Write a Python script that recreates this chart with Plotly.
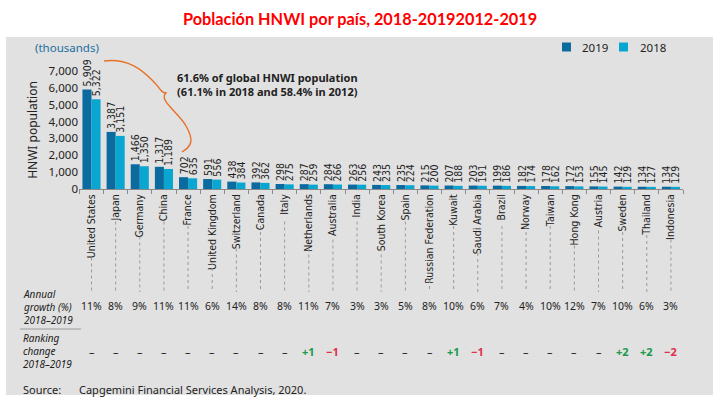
import plotly.graph_objects as go

countries = ["United States", "Japan", "Germany", "China", "France", "United Kingdom",
             "Switzerland", "Canada", "Italy", "Netherlands", "Australia", "India",
             "South Korea", "Spain", "Russian Federation", "Kuwait", "Saudi Arabia",
             "Brazil", "Norway", "Taiwan", "Hong Kong", "Austria", "Sweden", "Thailand",
             "Indonesia"]
pop_2019 = [5909, 3387, 1466, 1317, 702, 591, 438, 392, 298, 287, 284, 263, 243, 235,
            215, 207, 203, 199, 182, 178, 172, 155, 142, 134, 134]
pop_2018 = [5322, 3151, 1350, 1189, 635, 556, 384, 362, 275, 259, 266, 256, 235, 224,
            200, 188, 191, 186, 174, 162, 153, 145, 129, 127, 129]
growth = ["11%", "8%", "9%", "11%", "11%", "6%", "14%", "8%", "8%", "11%", "7%", "3%",
          "3%", "5%", "8%", "10%", "6%", "7%", "4%", "10%", "12%", "7%", "10%", "6%", "3%"]
rank_change = [0, 0, 0, 0, 0, 0, 0, 0, 0, 1, -1, 0, 0, 0, 0, 1, -1, 0, 0, 0, 0, 0, 2, 2, -2]
y_ticks = [0, 1000, 2000, 3000, 4000, 5000, 6000, 7000]
series_names = ["2019", "2018"]

W, H = 715, 399
L, R, T, B = 79, 32, 71, 210
PW, PH = W - L - R, H - T - B


def px(x):
    return (x - L) / PW


def py(y):
    return (T + PH - y) / PH


DARK = "#0b6a9e"
LIGHT = "#0aa6d2"
NARROW = "Liberation Sans Narrow, DejaVu Sans Condensed, Arial Narrow, sans-serif"
MAIN = "Noto Sans, Open Sans, sans-serif"

fig = go.Figure()
for name, vals, col in zip(series_names, [pop_2019, pop_2018], [DARK, LIGHT]):
    fig.add_trace(go.Bar(
        x=countries, y=vals, name=name, marker=dict(color=col, line=dict(width=0)),
        text=[f"{v:,}" for v in vals], textposition="outside", textangle=-90,
        outsidetextfont=dict(family=NARROW, size=10.5, color="#222"), cliponaxis=False,
        constraintext="none"))

shapes = []
# grey panel
shapes.append(dict(type="rect", xref="paper", yref="paper", x0=px(6), x1=px(713),
                   y0=py(395), y1=py(37), fillcolor="#e1e1e1", line=dict(width=0),
                   layer="below"))
# dotted leader lines below country labels
for c in countries:
    top = 197 + 4.5 * len(c) + 2
    shapes.append(dict(type="line", xref="x", yref="paper", x0=c, x1=c,
                       y0=py(top), y1=py(292),
                       line=dict(color="#9a9a9a", width=1, dash="dot")))
# separator line
shapes.append(dict(type="line", xref="paper", yref="paper", x0=px(20), x1=px(81),
                   y0=py(329), y1=py(329), line=dict(color="#9a9a9a", width=1)))
# orange brace
pts = [("M", [(104, 61)]), ("C", [(128, 58), (142, 70), (152, 80)]),
       ("S", [(160, 92), (166, 93)]), ("C", [(158, 100), (178, 112), (186, 126)]),
       ("S", [(192, 146), (182, 152)])]
path = " ".join(k + " " + " ".join(f"{px(a):.4f},{py(b):.4f}" for a, b in p) for k, p in pts)
shapes.append(dict(type="path", xref="paper", yref="paper", path=path,
                   line=dict(color="#e8712a", width=1.4)))

ann = []
# manual legend
for (sx, tx), name, col in zip([(562, 580), (619, 638)], series_names, [DARK, LIGHT]):
    shapes.append(dict(type="rect", xref="paper", yref="paper", x0=px(sx), x1=px(sx + 9),
                       y0=py(51.5), y1=py(42.5), fillcolor=col, line=dict(width=0)))
    ann.append(dict(text=name, xref="paper", yref="paper", x=px(tx), y=py(47),
                    showarrow=False, font=dict(family=MAIN, size=11.5, color="#222"),
                    xanchor="left", yanchor="middle"))

ann.append(dict(text="<b>Población HNWI por país, 2018-20192012-2019</b>", xref="paper",
                yref="paper", x=px(360), y=py(18), showarrow=False,
                font=dict(family="Lato, Liberation Sans, sans-serif", size=16.3, color="#ff0000"),
                xanchor="center", yanchor="middle"))
ann.append(dict(text="(thousands)", xref="paper", yref="paper", x=px(33), y=py(47),
                showarrow=False, font=dict(family=MAIN, size=11.5, color="#1a6fa0"),
                xanchor="left", yanchor="middle"))
ann.append(dict(text="<b>61.6% of global HNWI population<br>(61.1% in 2018 and 58.4% in 2012)</b>",
                xref="paper", yref="paper", x=px(267), y=py(84.5), showarrow=False,
                align="center", font=dict(family=MAIN, size=11, color="#222"),
                xanchor="center", yanchor="middle"))
ann.append(dict(text="<i>Annual<br>growth (%)<br>2018–2019</i>", xref="paper", yref="paper",
                x=px(21), y=py(306.5), showarrow=False, align="left",
                font=dict(family=MAIN, size=10, color="#222"),
                xanchor="left", yanchor="middle"))
ann.append(dict(text="<i>Ranking<br>change<br>2018–2019</i>", xref="paper", yref="paper",
                x=px(21), y=py(351), showarrow=False, align="left",
                font=dict(family=MAIN, size=10, color="#222"),
                xanchor="left", yanchor="middle"))
for c, g in zip(countries, growth):
    ann.append(dict(text=g, xref="x", yref="paper", x=c, y=py(306), showarrow=False,
                    font=dict(family=MAIN, size=10.5, color="#222"),
                    xanchor="center", yanchor="middle"))
for c, r in zip(countries, rank_change):
    if r == 0:
        txt, col = "–", "#222"
    elif r > 0:
        txt, col = f"<b>+{r}</b>", "#1a9a4a"
    else:
        txt, col = f"<b>−{-r}</b>", "#e0304e"
    ann.append(dict(text=txt, xref="x", yref="paper", x=c, y=py(351), showarrow=False,
                    font=dict(family=MAIN, size=11, color=col),
                    xanchor="center", yanchor="middle"))
ann.append(dict(text="Source:", xref="paper", yref="paper", x=px(21), y=py(389), showarrow=False,
                font=dict(family=MAIN, size=11, color="#222"), xanchor="left", yanchor="middle"))
ann.append(dict(text="Capgemini Financial Services Analysis, 2020.", xref="paper", yref="paper",
                x=px(77), y=py(389), showarrow=False,
                font=dict(family=MAIN, size=11, color="#222"), xanchor="left", yanchor="middle"))

fig.update_layout(
    width=W, height=H, margin=dict(l=L, r=R, t=T, b=B, autoexpand=False),
    paper_bgcolor="white", plot_bgcolor="rgba(0,0,0,0)",
    barmode="group", bargap=0.25, bargroupgap=0,
    shapes=shapes, annotations=ann, showlegend=False,
    xaxis=dict(type="category", tickangle=-90, showline=True, linecolor="#8a8a8a",
               linewidth=1, ticks="outside", tickson="boundaries", ticklen=4,
               tickcolor="#8a8a8a", showgrid=False,
               tickfont=dict(family=NARROW, size=10.5, color="#222")),
    yaxis=dict(range=[0, 7000], tickvals=y_ticks, tickformat=",d", showgrid=False,
               zeroline=False, showline=False,
               tickfont=dict(family=MAIN, size=11.5, color="#222"),
               title=dict(text="HNWI population", standoff=8,
                          font=dict(family=MAIN, size=12, color="#222"))),
)

fig.write_html("out.html", post_script="document.body.style.margin='0';",
               config={"displayModeBar": False})
